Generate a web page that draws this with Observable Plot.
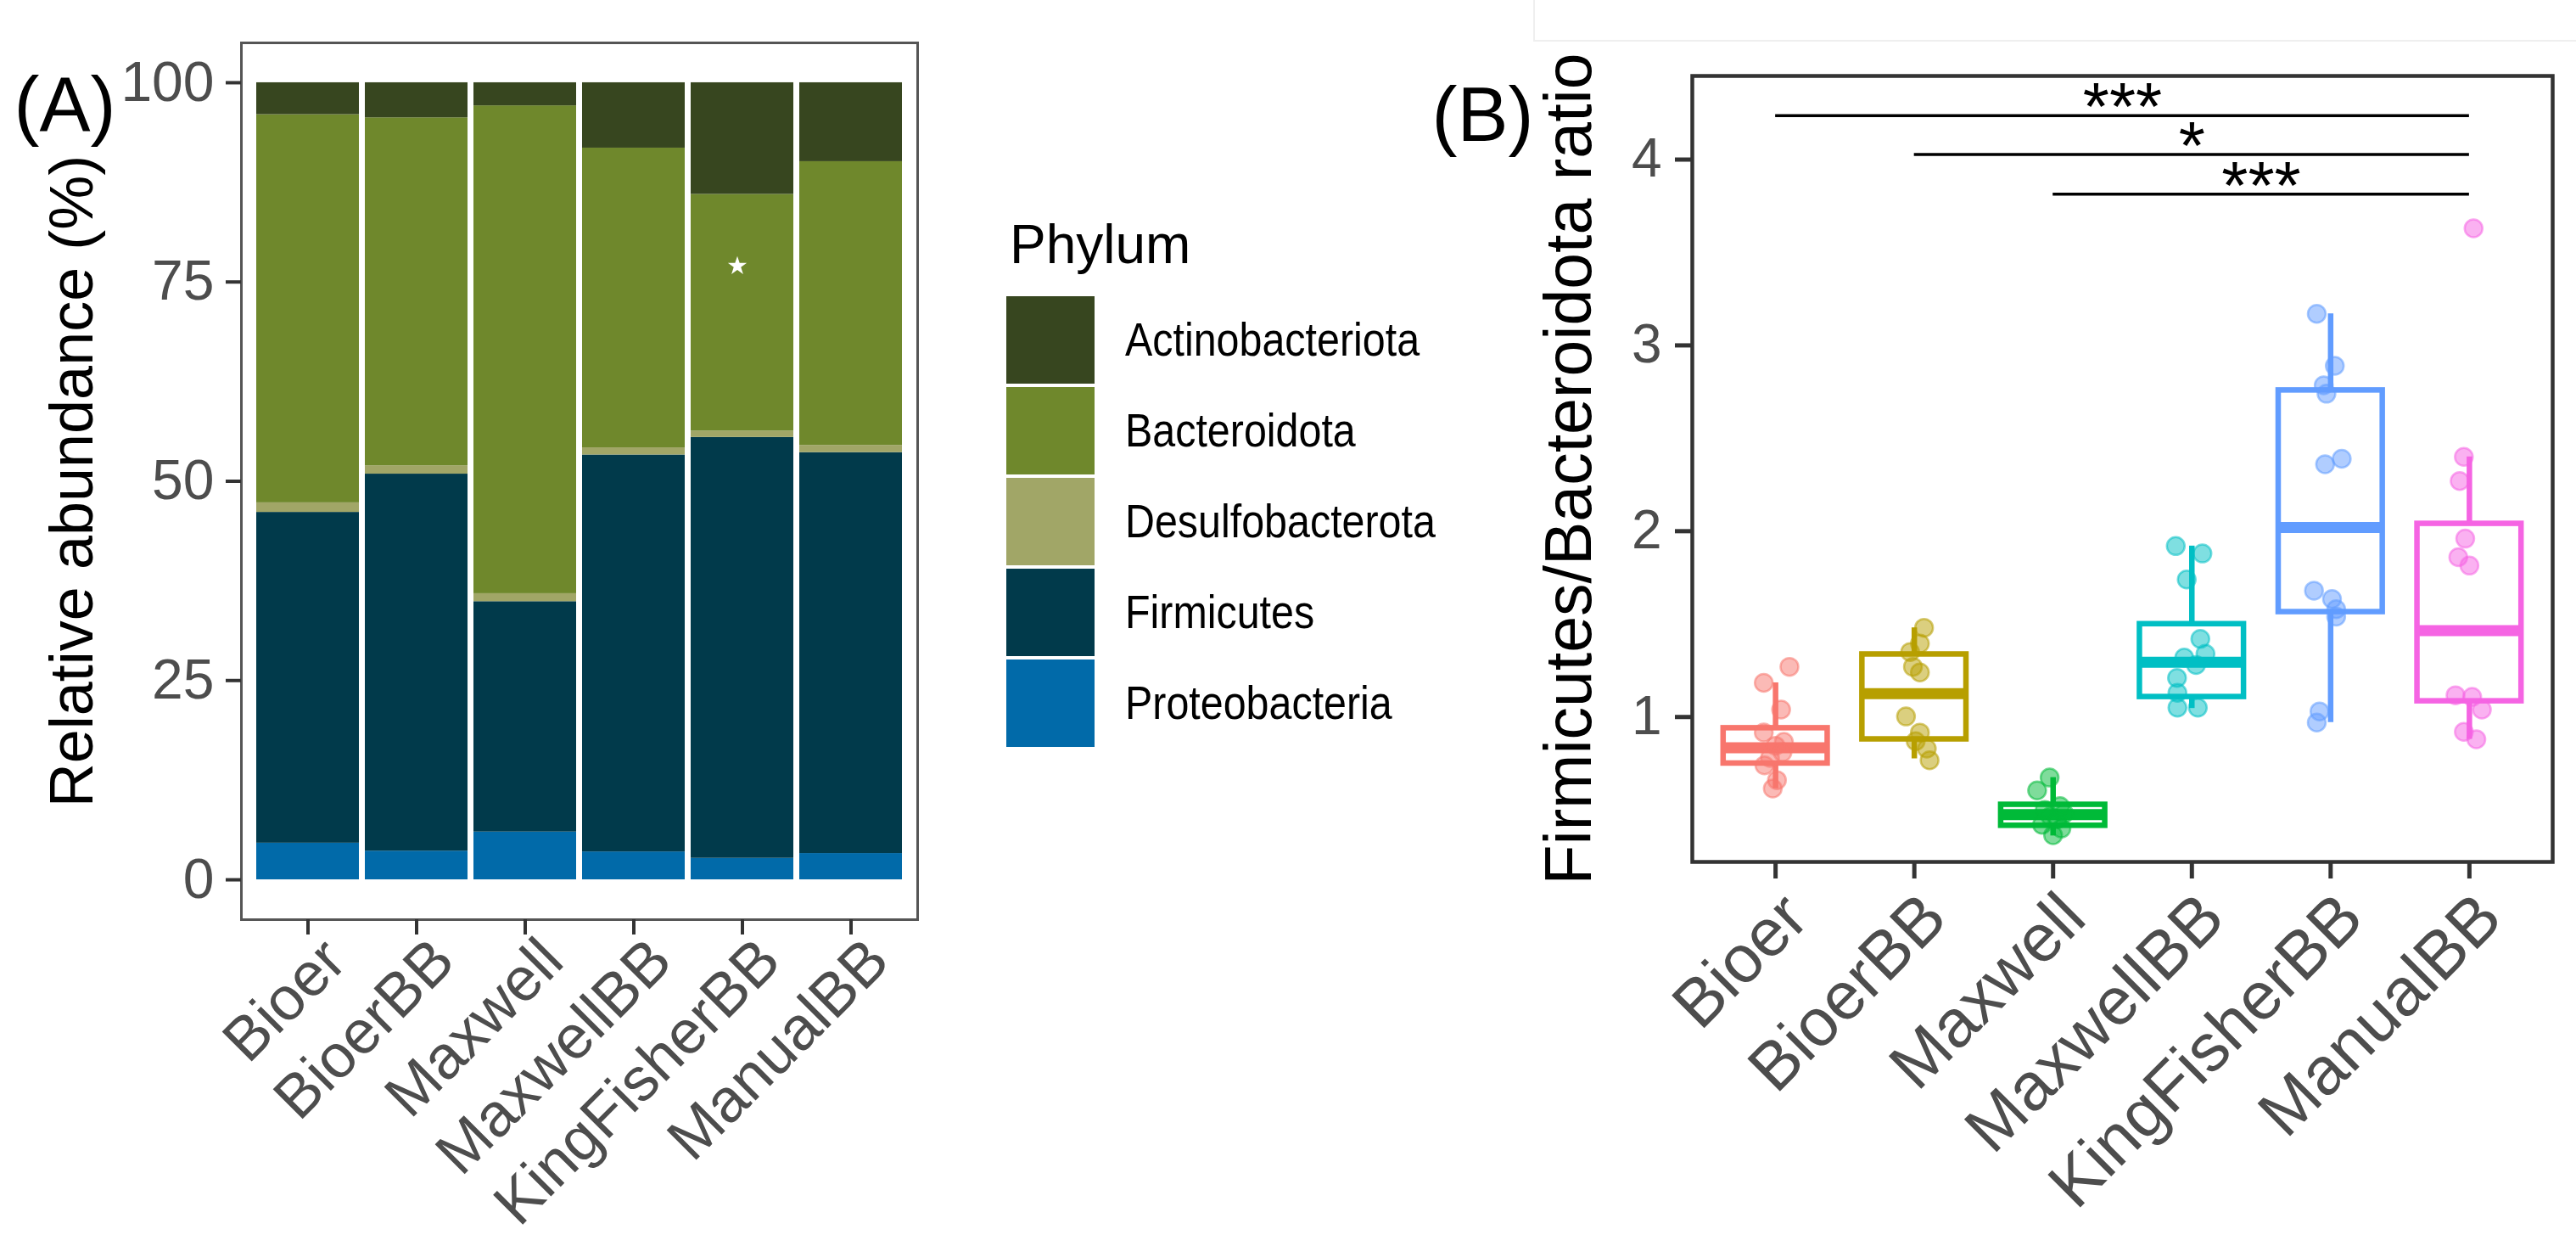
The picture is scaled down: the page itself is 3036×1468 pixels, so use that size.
<!DOCTYPE html>
<html>
<head>
<meta charset="utf-8">
<script src="https://cdn.jsdelivr.net/npm/d3@7"></script>
<script src="https://cdn.jsdelivr.net/npm/@observablehq/plot@0.6"></script>
<style>
  html, body { margin: 0; padding: 0; background: white; }
  #root { position: relative; width: 3036px; height: 1468px; background: white; overflow: hidden; font-family: "Liberation Sans", Arial, sans-serif; }
  #root svg { position: absolute; top: 0; }
  .legend-title { position: absolute; font-size: 64px; color: #000; white-space: nowrap; }
  .legend-key { position: absolute; }
  .legend-label { position: absolute; font-size: 55px; color: #000; white-space: nowrap; transform: scaleX(0.88); transform-origin: left center; }
</style>
</head>
<body>
<div id="root"></div>
<script>
// ---------------- Panel A data ----------------
const methods = ["Bioer", "BioerBB", "Maxwell", "MaxwellBB", "KingFisherBB", "ManualBB"];
const phyla = ["Actinobacteriota", "Bacteroidota", "Desulfobacterota", "Firmicutes", "Proteobacteria"];
const phylaColors = ["#37461f", "#6f882c", "#a1a667", "#013a4b", "#016aa9"];
const actinobacteriota = [4.0, 4.4, 2.9, 8.2, 14.0, 9.9];
const bacteroidota     = [48.7, 43.65, 61.2, 37.6, 29.7, 35.6];
const desulfobacterota = [1.2, 1.05, 1.0, 0.9, 0.8, 0.9];
const firmicutes       = [41.5, 47.3, 28.9, 49.8, 52.8, 50.3];
const proteobacteria   = [4.6, 3.6, 6.0, 3.5, 2.7, 3.3];
const yTicksA = [0, 25, 50, 75, 100];
const starMark = [{method: "KingFisherBB", value: 77}];

// ---------------- Panel B data ----------------
const groups = ["Bioer", "BioerBB", "Maxwell", "MaxwellBB", "KingFisherBB", "ManualBB"];
const groupColors = ["#F8766D", "#B79F00", "#00BA38", "#00BFC4", "#619CFF", "#F564E3"];
const whiskerLow  = [0.615, 0.775, 0.36, 1.046, 0.97, 0.88];
const q1          = [0.75, 0.88, 0.415, 1.108, 1.565, 1.085];
const median      = [0.834, 1.126, 0.475, 1.295, 2.02, 1.465];
const q3          = [0.94, 1.337, 0.528, 1.50, 2.758, 2.04];
const whiskerHigh = [1.184, 1.48, 0.674, 1.92, 3.17, 2.40];

const ratioBioer        = [1.27, 1.184, 1.04, 0.917, 0.866, 0.845, 0.81, 0.78, 0.74, 0.66, 0.615];
const jitterBioer       = [0.10, -0.085, 0.04, -0.085, 0.06, 0.0, 0.05, -0.04, -0.08, 0.01, -0.02];
const ratioBioerBB      = [1.48, 1.395, 1.35, 1.27, 1.24, 1.003, 0.916, 0.87, 0.83, 0.767];
const jitterBioerBB     = [0.07, 0.04, -0.03, -0.01, 0.04, -0.06, 0.04, 0.01, 0.09, 0.11];
const ratioMaxwell      = [0.674, 0.605, 0.52, 0.50, 0.48, 0.465, 0.45, 0.42, 0.40, 0.364];
const jitterMaxwell     = [-0.025, -0.115, 0.05, -0.06, 0.08, -0.02, 0.03, -0.08, 0.06, 0.0];
const ratioMaxwellBB    = [1.92, 1.88, 1.74, 1.42, 1.34, 1.32, 1.28, 1.21, 1.13, 1.05, 1.05];
const jitterMaxwellBB   = [-0.116, 0.076, -0.037, 0.061, 0.098, -0.055, 0.03, -0.107, -0.104, -0.104, 0.043];
const ratioKingFisherBB = [3.17, 2.89, 2.785, 2.74, 2.39, 2.36, 1.68, 1.635, 1.58, 1.54, 1.03, 0.97];
const jitterKingFisherBB= [-0.1, 0.03, -0.05, -0.03, 0.08, -0.04, -0.12, 0.01, 0.04, 0.04, -0.08, -0.1];
const ratioManualBB     = [3.63, 2.40, 2.27, 1.96, 1.86, 1.815, 1.117, 1.108, 1.04, 0.92, 0.88];
const jitterManualBB    = [0.03, -0.04, -0.07, -0.03, -0.08, 0.0, -0.1, 0.02, 0.09, -0.04, 0.05];

const sigFrom  = ["Bioer", "BioerBB", "Maxwell"];
const sigTo    = ["ManualBB", "ManualBB", "ManualBB"];
const sigY     = [4.237, 4.027, 3.814];
const sigLabel = ["***", "*", "***"];
const yTicksB  = [1, 2, 3, 4];

// ---------------- Build tables ----------------
const stackOrder = ["Proteobacteria", "Firmicutes", "Desulfobacterota", "Bacteroidota", "Actinobacteriota"];
const seriesA = {
  Actinobacteriota: actinobacteriota, Bacteroidota: bacteroidota, Desulfobacterota: desulfobacterota,
  Firmicutes: firmicutes, Proteobacteria: proteobacteria
};
const tableA = [];
methods.forEach((m, i) => stackOrder.forEach(p => tableA.push({method: m, phylum: p, value: seriesA[p][i]})));

const stats = groups.map((g, i) => ({group: g, i, lo: whiskerLow[i], q1: q1[i], med: median[i], q3: q3[i], hi: whiskerHigh[i]}));
const ptsSrc = [
  [ratioBioer, jitterBioer], [ratioBioerBB, jitterBioerBB], [ratioMaxwell, jitterMaxwell],
  [ratioMaxwellBB, jitterMaxwellBB], [ratioKingFisherBB, jitterKingFisherBB], [ratioManualBB, jitterManualBB]
];
const points = [];
ptsSrc.forEach(([vals, jit], i) => vals.forEach((v, k) => points.push({group: groups[i], i, value: v, jitter: jit[k]})));
const sig = sigFrom.map((f, k) => ({from: groups.indexOf(f), to: groups.indexOf(sigTo[k]), y: sigY[k], label: sigLabel[k]}));

const FONT = '"Liberation Sans", Arial, sans-serif';
const root = document.getElementById("root");

// ---------------- Panel A ----------------
const plotA = Plot.plot({
  width: 1100, height: 1468,
  marginLeft: 284, marginRight: 19, marginTop: 50, marginBottom: 385,
  style: {background: "transparent", fontFamily: FONT, overflow: "visible"},
  x: {domain: methods, paddingInner: 0.055, paddingOuter: 0.1275, label: null},
  y: {domain: [-5, 105], label: null},
  color: {domain: phyla, range: phylaColors},
  marks: [
    Plot.barY(tableA, {x: "method", y: "value", fill: "phylum", order: null}),
    Plot.dot(starMark, {x: "method", y: "value", symbol: "star", fill: "white", r: 7, dx: -6}),
    Plot.frame({stroke: "#555", strokeWidth: 3}),
    Plot.axisY({ticks: yTicksA, tickSize: 18, tickPadding: 14, fontSize: 66, fill: "#4d4d4d", stroke: "#333", strokeWidth: 4, label: null}),
    Plot.axisX({tickSize: 18, tickFormat: () => "", stroke: "#333", strokeWidth: 4, label: null}),
    Plot.axisX({tickSize: 0, tickPadding: 28, tickRotate: -45, fontSize: 72, fill: "#4d4d4d", label: null, dx: 32, dy: 8}),
    Plot.text(["Relative abundance (%)"], {text: d => d, frameAnchor: "left", textAnchor: "middle", dx: -199, rotate: -90, fontSize: 72, fill: "black"}),
    Plot.text(["(A)"], {text: d => d, frameAnchor: "top-left", dx: -268, dy: 40, textAnchor: "start", fontSize: 90, fill: "black"})
  ]
});
plotA.style.left = "0px";
root.appendChild(plotA);

// ---------------- Panel B ----------------
const plotB = Plot.plot({
  width: 1476, height: 1468,
  marginLeft: 434, marginRight: 28, marginTop: 89, marginBottom: 453,
  style: {background: "transparent", fontFamily: FONT, overflow: "visible"},
  x: {domain: [-0.6, 5.6], label: null},
  y: {domain: [0.22, 4.45], label: null},
  color: {domain: groups, range: groupColors},
  marks: [
    Plot.ruleX(stats, {x: "i", y1: "lo", y2: "q1", stroke: "group", strokeWidth: 6.5}),
    Plot.ruleX(stats, {x: "i", y1: "q3", y2: "hi", stroke: "group", strokeWidth: 6.5}),
    Plot.rect(stats, {x1: d => d.i - 0.375, x2: d => d.i + 0.375, y1: "q1", y2: "q3", fill: "white", stroke: "group", strokeWidth: 6.5}),
    Plot.ruleY(stats, {x1: d => d.i - 0.375, x2: d => d.i + 0.375, y: "med", stroke: "group", strokeWidth: 13}),
    Plot.dot(points, {x: d => d.i + d.jitter, y: "value", fill: "group", fillOpacity: 0.5, stroke: "group", strokeOpacity: 0.55, strokeWidth: 2.5, r: 10.5}),
    Plot.ruleY(sig, {x1: "from", x2: "to", y: "y", stroke: "black", strokeWidth: 3.5}),
    Plot.text(sig, {x: d => (d.from + d.to) / 2, y: "y", text: "label", fontSize: 80, lineAnchor: "bottom", dy: 17, fill: "black"}),
    Plot.frame({stroke: "#333", strokeWidth: 4.5}),
    Plot.axisY({ticks: yTicksB, tickFormat: d => String(d), tickSize: 20, tickPadding: 16, fontSize: 64, fill: "#4d4d4d", stroke: "#333", strokeWidth: 5, label: null}),
    Plot.axisX({ticks: d3.range(groups.length), tickFormat: () => "", tickSize: 20, stroke: "#333", strokeWidth: 5, label: null}),
    Plot.axisX({ticks: d3.range(groups.length), tickFormat: i => groups[i], tickSize: 0, tickPadding: 30, tickRotate: -45, fontSize: 79, fill: "#4d4d4d", label: null, dx: 24, dy: 22}),
    Plot.text(["Firmicutes/Bacteroidota ratio"], {text: d => d, frameAnchor: "left", textAnchor: "middle", dx: -144, rotate: -90, fontSize: 77, fill: "black"}),
    Plot.text(["(B)"], {text: d => d, frameAnchor: "top-left", dx: -307, dy: 13, textAnchor: "start", fontSize: 90, fill: "black"})
  ]
});
plotB.style.left = "1560px";
root.appendChild(plotB);

// faint border lines at top of panel B (from the source figure)
const faint = document.createElement("div");
Object.assign(faint.style, {position: "absolute", left: "1807px", top: "-2px", width: "1240px", height: "49px",
  borderLeft: "2px solid #efefef", borderBottom: "2px solid #efefef"});
root.appendChild(faint);

// ---------------- Legend (Phylum) ----------------
const lt = document.createElement("div");
lt.className = "legend-title";
lt.textContent = "Phylum";
Object.assign(lt.style, {left: "1190px", top: "251px"});
root.appendChild(lt);
phyla.forEach((p, k) => {
  const top = 349 + k * 107;
  const key = document.createElement("div");
  key.className = "legend-key";
  Object.assign(key.style, {left: "1186px", top: top + "px", width: "104px", height: "103px", background: phylaColors[k]});
  root.appendChild(key);
  const lab = document.createElement("div");
  lab.className = "legend-label";
  lab.textContent = p;
  Object.assign(lab.style, {left: "1326px", top: (top + 51 - 31) + "px", lineHeight: "62px", height: "62px"});
  root.appendChild(lab);
});
</script>
</body>
</html>
